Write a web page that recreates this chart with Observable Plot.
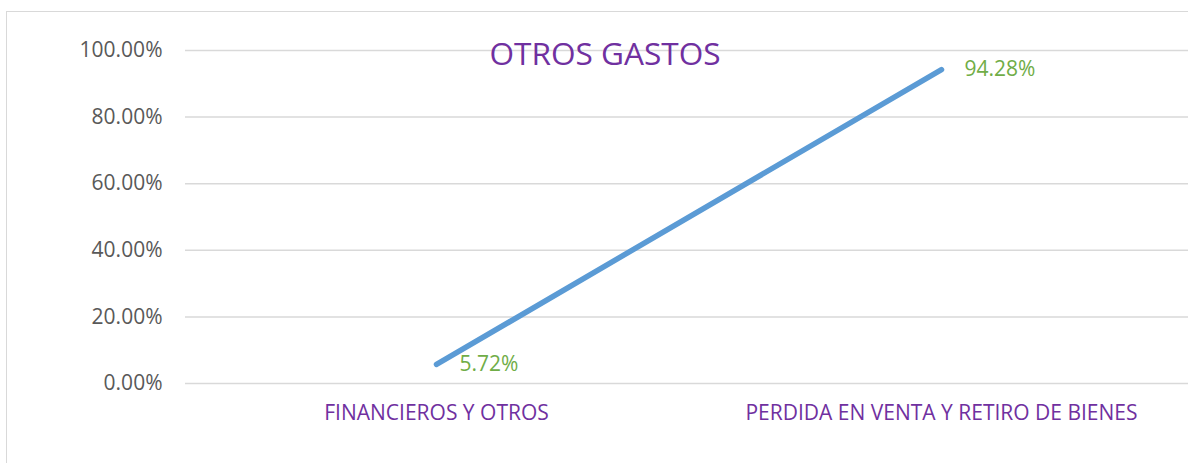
<!DOCTYPE html>
<html>
<head>
<meta charset="utf-8">
<script src="https://cdn.jsdelivr.net/npm/d3@7"></script>
<script src="https://cdn.jsdelivr.net/npm/@observablehq/plot@0.6"></script>
<style>
  html, body { margin: 0; padding: 0; background: #fff; overflow: hidden; }
  #wrap { position: relative; width: 1188px; height: 463px; overflow: hidden; font-family: "Open Sans", sans-serif; }
  #border { position: absolute; left: 6px; top: 11px; width: 1300px; height: 600px; border: 1.5px solid #d9d9d9; box-sizing: border-box; }
  #title { position: absolute; left: 6px; width: 1198px; top: 33px; text-align: center; font-size: 31.6px; color: #7030A0; line-height: 40px; z-index: 2; }
  #chart { position: absolute; left: 0; top: 0; }
</style>
</head>
<body>
<div id="wrap">
  <div id="border"></div>
  <div id="chart"></div>
  <div id="title">OTROS GASTOS</div>
</div>
<script>
const categories = ["FINANCIEROS Y OTROS", "PERDIDA EN VENTA Y RETIRO DE BIENES"];
const values = [0.0572, 0.9428];
const yTicks = [0, 0.2, 0.4, 0.6, 0.8, 1.0];

const data = categories.map((c, i) => ({cat: c, value: values[i]}));

const chart = Plot.plot({
  width: 1188,
  height: 463,
  marginLeft: 185,
  marginRight: 0,
  marginTop: 50,
  marginBottom: 80,
  style: {fontFamily: "'Open Sans', sans-serif", background: "transparent", overflow: "visible"},
  x: {type: "point", domain: categories, range: [183, 1193], padding: 0.5},
  y: {domain: [0, 1]},
  marks: [
    Plot.ruleY(yTicks, {stroke: "#d9d9d9", strokeWidth: 1.5}),
    Plot.axisY(yTicks, {tickFormat: d3.format(".2%"), tickSize: 0, tickPadding: 23, fontSize: 21, fill: "#595959", label: null}),
    Plot.axisX({tickSize: 0, tickPadding: 22, fontSize: 21, fill: "#7030A0", label: null}),
    Plot.line(data, {x: "cat", y: "value", stroke: "#5B9BD5", strokeWidth: 5.5, strokeLinecap: "round"}),
    Plot.text(data, {x: "cat", y: "value", text: d => d3.format(".2%")(d.value), dx: 23, textAnchor: "start", fill: "#70AD47", fontSize: 21})
  ]
});
document.getElementById("chart").appendChild(chart);
</script>
</body>
</html>
